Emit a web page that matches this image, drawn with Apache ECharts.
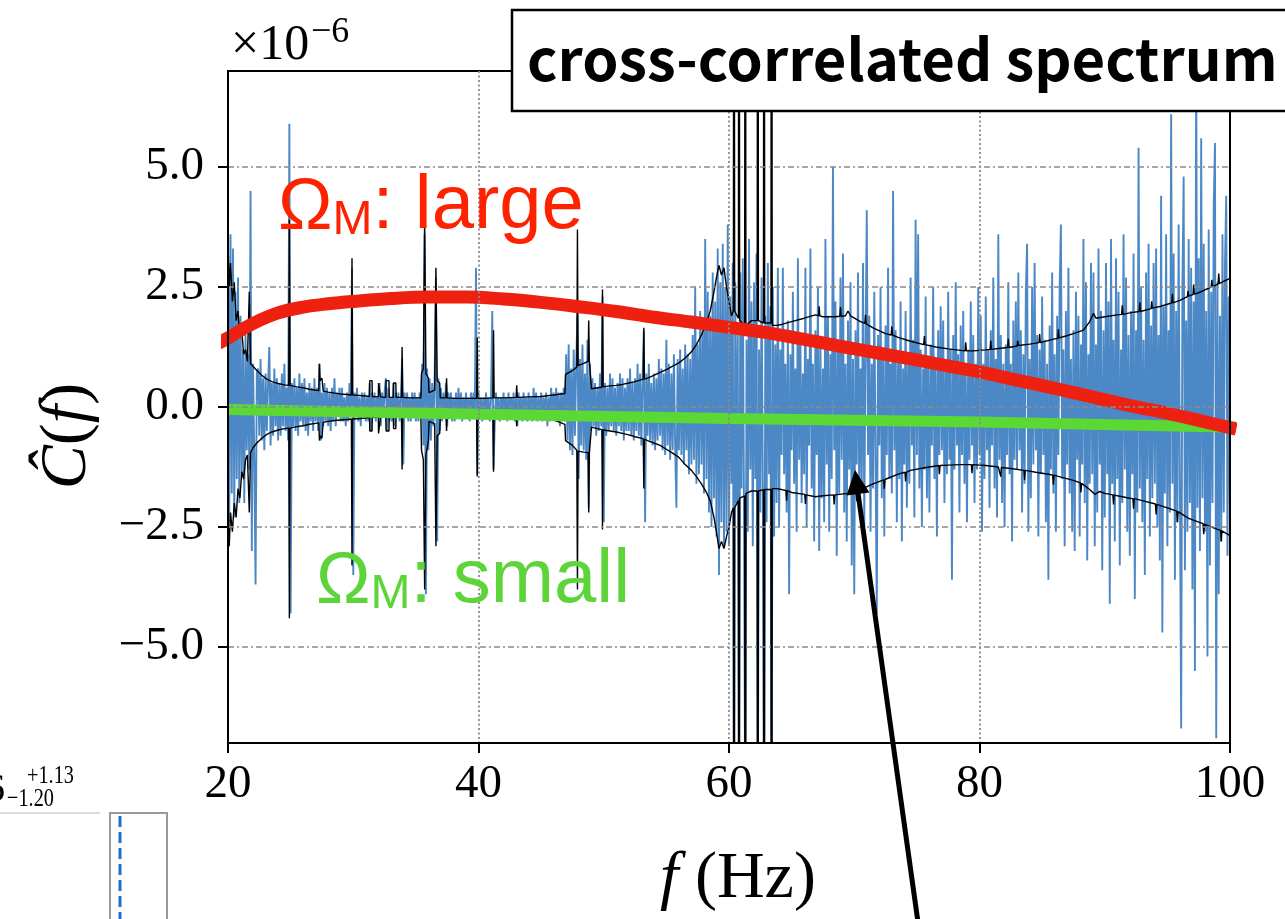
<!DOCTYPE html>
<html><head><meta charset="utf-8">
<script src="https://cdn.jsdelivr.net/npm/echarts@6/dist/echarts.min.js"></script>
<style>html,body{margin:0;padding:0;background:#fff}#c{width:1285px;height:919px}</style>
</head><body><div id="c"></div>
<script>
// ---- data (values in units of 1e-6) ----
const freqStart = 20, freqStep = 0.1;
const xTicks = [20, 40, 60, 80, 100];
const yTicks = [-5, -2.5, 0, 2.5, 5];

const blue20_40 = [
 4.1,-2.4,3.6,-1.8,3.3,-2.3,2.4,-1.5,2.7,-2.0,
 1.9,-1.4,1.2,-2.0,1.5,-0.9,1.1,-1.3,4.5,-3.0,
 0.9,-1.1,-3.7,0.7,0.8,-0.6,1.0,-0.7,0.6,-0.9,
 0.7,-0.5,0.5,1.25,-0.8,0.5,-0.6,0.8,-0.4,0.6,
 -0.7,0.5,-0.6,0.7,-0.4,0.9,-0.5,0.4,-0.7,5.9,
 -4.3,0.5,-0.4,0.6,-0.5,0.4,-0.6,0.7,-0.3,0.5,
 -0.4,0.6,-0.5,0.3,-0.6,0.5,-0.3,0.4,-0.5,0.6,
 -0.3,0.4,-0.5,0.9,-0.7,0.3,-0.4,0.5,-0.3,0.4,
 -0.4,0.3,-0.5,0.4,-0.3,0.6,-0.4,0.3,-0.2,0.4,
 -0.3,0.4,-0.3,0.2,-0.4,0.3,-0.3,0.5,-0.2,2.9,
 -3.5,0.3,-0.2,0.4,-0.3,0.2,-0.4,0.3,-0.2,0.3,
 -0.3,0.2,-0.3,0.5,-0.5,0.3,-0.2,0.3,-0.3,0.2,
 -0.2,0.5,-0.4,0.3,-0.2,0.3,0.6,-0.5,0.4,-0.3,
 0.2,-0.3,0.5,-0.4,0.3,-0.2,0.3,-0.3,0.2,1.0,
 -1.2,0.3,-0.2,0.3,-0.3,0.2,-0.3,0.3,-0.2,0.3,
 -0.3,0.2,-0.3,0.3,-0.2,0.9,-0.8,3.6,-3.9,0.8,
 -0.9,0.6,-0.7,0.5,-0.4,0.6,2.7,-2.8,0.6,-0.5,
 0.4,-0.3,0.3,-0.2,0.5,-0.4,0.3,-0.2,0.3,-0.3,
 0.2,-0.3,0.3,-0.2,0.4,-0.2,0.3,-0.3,0.2,-0.2,
 0.3,-0.2,0.2,-0.3,0.3,-0.2,0.3,-0.2,2.9,-1.4
];
const blue40_60 = [
 0.3,-0.2,0.2,-0.3,0.2,-0.2,0.3,-0.2,0.2,-0.3,
 0.2,2.0,-1.3,-0.3,0.3,-0.2,0.2,-0.3,0.2,-0.2,
 0.3,-0.2,0.2,-0.3,0.3,-0.2,0.2,-0.2,0.3,-0.3,
 0.2,-0.4,0.3,-0.2,0.2,-0.3,0.3,-0.2,0.2,-0.3,
 0.3,-0.2,0.2,-0.3,0.4,-0.2,0.3,-0.3,0.2,-0.2,
 0.3,-0.3,0.2,-0.2,0.3,-0.4,0.2,-0.3,0.4,-0.2,
 0.3,-0.3,0.4,-0.2,0.3,-0.4,0.3,-0.3,0.4,-0.3,
 1.1,-0.7,1.3,-0.9,0.8,-1.0,1.2,-0.6,0.9,1.9,
 -1.5,1.0,-0.8,1.3,-0.9,0.7,-1.1,1.4,-2.1,0.9,
 -0.5,0.6,-0.4,0.5,-0.6,0.4,-0.5,0.7,-0.4,2.3,
 -2.4,0.5,-0.6,0.4,-0.5,0.7,-0.4,0.6,-0.5,0.4,
 -0.6,0.5,-0.4,0.7,-0.5,0.6,-0.7,0.4,-0.5,0.6,
 -0.5,0.8,-0.6,0.5,-0.7,0.6,-0.5,0.9,-0.6,0.7,
 -0.8,0.6,1.6,-2.4,0.7,-0.6,0.9,-0.7,0.5,-0.8,
 0.7,-0.9,0.6,-0.7,1.0,-0.6,0.8,-0.9,0.7,-1.0,
 1.4,-0.8,0.9,-1.1,0.7,-0.9,1.1,-0.8,-2.1,1.0,
 -0.9,1.2,-1.0,0.8,-1.2,1.3,-0.9,1.1,-1.4,1.0,
 -1.2,1.5,-1.1,2.5,-1.6,1.3,-1.4,2.0,-1.2,1.6,
 -1.8,3.5,-1.5,2.4,-2.2,1.9,-2.5,2.8,-1.9,2.2,
 -2.7,3.3,-3.5,2.6,-2.4,3.4,-2.9,2.5,-2.6,3.8
];
const blue60_80 = [
 -2.9,2.3,-1.6,3.0,-9,2.6,-2.0,1.5,-9,2.8,
 -1.7,3.1,-2.4,-9,1.4,-2.6,3.5,-1.3,2.2,-2.9,
 2.6,-1.5,3.2,-9,1.2,-2.2,2.7,-1.6,-9,1.9,
 -2.4,3.0,-1.4,2.1,-9,2.5,-2.7,1.3,-2.0,2.9,
 -2.5,1.2,-1.0,2.9,-1.4,0.9,-2.2,1.8,-3.9,1.1,
 -0.9,2.4,-1.6,0.8,-2.6,3.1,-1.1,1.5,-2.0,0.7,
 -1.4,2.9,-2.5,1.0,-0.8,3.3,-1.7,0.9,-2.8,1.6,
 -1.0,2.5,-3.0,1.3,-1.9,0.8,-2.4,3.5,-1.2,1.9,
 -2.6,1.1,-1.5,5.0,-0.9,2.2,-3.1,1.4,-1.8,2.7,
 -1.1,3.2,-2.2,0.9,-2.8,1.8,-1.3,2.6,-3.3,1.0,
 -3.9,1.6,-1.2,2.8,-2.0,0.8,-1.6,3.0,-2.5,1.2,
 4.1,-1.0,1.9,-2.6,0.9,-1.7,2.4,-1.1,-4.3,1.5,
 -0.8,2.5,-1.9,1.0,-2.7,1.7,-1.0,2.9,-1.5,0.9,
 -1.8,4.5,-0.9,1.6,-2.4,1.1,-1.5,2.2,-2.8,0.8,
 -1.2,2.0,-2.1,0.9,-1.6,2.7,-0.8,1.4,-2.3,3.9,
 -1.0,3.6,-1.7,1.2,-2.5,0.8,-1.3,2.3,-1.9,1.0,
 -2.2,1.3,-0.8,2.5,-1.5,0.9,-2.7,1.6,-1.0,2.1,
 -0.9,1.8,-2.0,0.8,-1.4,2.4,-1.1,1.2,-3.6,1.5,
 -1.3,2.6,-0.8,1.1,-2.2,1.7,-1.0,2.0,-1.6,0.8,
 -2.4,1.2,-1.1,2.2,-0.8,1.5,-2.0,0.9,-1.3,2.5
];
const blue80_100 = [
 -1.0,1.9,-2.6,0.9,-1.5,2.3,-0.9,1.2,-2.1,1.6,
 -0.8,2.7,-1.7,1.0,-2.3,3.6,-1.1,1.5,-2.0,0.9,
 -2.5,1.3,-1.0,2.6,-1.4,0.9,-2.8,1.8,-1.1,2.2,
 -1.3,2.8,-0.9,1.6,-2.2,1.1,-1.6,2.4,3.4,-2.6,
 1.0,-1.9,2.5,-1.2,3.0,-0.9,1.5,-2.7,1.2,-1.4,
 2.3,-1.0,1.4,-2.4,0.9,-3.6,1.7,-1.3,2.8,-1.8,
 1.1,-2.6,1.9,-1.0,2.5,3.8,-1.5,1.2,-2.9,2.0,
 -1.2,2.9,-1.8,1.0,-2.6,1.6,-3.0,2.4,-1.1,1.9,
 -2.7,1.3,-1.2,3.5,-2.0,2.6,-3.2,1.1,-1.6,3.0,
 -1.4,2.8,-2.9,1.3,-2.2,3.3,-1.2,2.0,-3.4,1.6,
 -2.3,3.0,-1.4,2.2,-4.1,3.5,-1.6,1.4,-2.8,3.1,
 -1.5,2.4,-3.3,1.2,-2.0,3.6,-1.3,2.7,-2.6,1.5,
 -3.1,2.0,-1.4,3.2,-4.0,1.6,-2.2,5.4,-1.7,2.5,
 -2.4,1.4,-3.5,2.8,-1.5,3.4,-2.7,1.7,-1.9,3.0,
 -1.6,3.3,-2.5,1.5,-3.2,4.4,-4.7,2.1,-1.8,3.6,
 -2.9,1.6,-2.2,6.1,-1.6,3.2,-3.6,2.0,-2.4,3.8,
 -1.7,-6.7,2.5,4.8,-3.4,1.8,-2.6,3.5,-2.0,2.9,
 -3.8,2.2,-5.5,7.5,-2.1,3.1,-3.0,5.6,-1.9,3.4,
 -2.6,2.0,-5.2,3.7,-3.3,2.4,-2.0,4.2,5.5,-6.9,
 2.6,-3.9,1.9,-2.8,3.6,-2.2,3.0,4.4,-3.1,2.3,
 -2.5
];

const envUpper = [
 [20.0,3.4],[20.1,2.5],[20.2,3.0],[20.35,2.2],[20.5,2.6],[20.65,1.8],[20.8,2.0],[20.95,1.45],[21.1,1.6],[21.25,1.1],
 [21.4,1.2],[21.55,0.95],[21.7,2.4],[21.8,0.9],[22.0,0.85],[22.3,0.76],[22.7,0.66],[23.1,0.58],[23.5,0.53],[24.0,0.49],
 [24.5,0.46],[24.85,0.45],[24.9,3.9],[24.95,0.45],[25.5,0.42],[26.0,0.4],[26.5,0.37],[27.0,0.35],[27.25,0.34],[27.3,0.9],
 [27.35,0.55],[27.5,0.6],[27.6,0.33],[28.0,0.31],[28.5,0.29],[29.0,0.27],[29.5,0.26],[29.85,0.25],[29.9,3.1],[29.95,0.25],
 [30.5,0.24],[31.0,0.23],[31.3,0.22],[31.32,0.55],[31.5,0.55],[31.52,0.22],[32.0,0.21],[32.02,0.5],[32.15,0.5],[32.17,0.21],
 [32.6,0.2],[32.62,0.55],[32.85,0.55],[32.87,0.2],[33.2,0.2],[33.22,0.5],[33.4,0.5],[33.42,0.2],[33.85,0.2],[33.9,1.25],
 [33.95,0.2],[34.5,0.19],[35.4,0.19],[35.45,0.7],[35.6,0.8],[35.7,3.95],[35.8,0.7],[36.0,0.6],[36.05,0.3],[36.5,0.35],
 [36.6,2.9],[36.7,0.55],[36.9,0.5],[36.95,0.19],[37.4,0.19],[37.45,0.6],[37.5,0.19],[38.0,0.18],[39.0,0.18],[39.85,0.18],
 [39.9,1.45],[39.95,0.18],[40.5,0.18],[41.15,0.19],[41.2,1.6],[41.25,0.19],[42.0,0.19],[43.0,0.2],[43.05,0.45],[43.1,0.2],
 [44.0,0.21],[45.0,0.22],[46.0,0.25],[46.9,0.28],[46.95,0.68],[47.5,0.76],[47.85,0.83],[47.9,3.7],[47.95,0.86],[48.4,0.91],
 [48.75,0.95],[48.8,1.8],[48.85,0.96],[49.0,0.98],[49.02,0.38],[49.5,0.4],[49.85,0.41],[49.9,2.45],[49.95,0.42],[50.5,0.44],
 [51.0,0.45],[51.5,0.47],[52.0,0.5],[52.5,0.53],[53.15,0.58],[53.2,1.65],[53.25,0.58],[53.5,0.6],[54.0,0.66],[54.5,0.72],
 [55.0,0.78],[55.5,0.85],[56.0,0.92],[56.5,1.02],[57.0,1.15],[57.4,1.3],[57.8,1.5],[58.2,1.75],[58.5,2.0],[58.8,2.4],
 [59.0,2.7],[59.2,2.95],[59.4,2.75],[59.6,2.9],[59.8,2.5],[60.0,2.2],[60.2,1.9],[60.35,2.0],[60.4,20],[60.45,2.0],
 [60.75,1.85],[60.8,20],[60.85,1.8],[61.25,1.7],[61.3,20],[61.35,1.7],[61.8,1.8],[62.25,1.8],[62.3,20],[62.35,1.8],
 [62.75,1.75],[62.8,20],[62.85,1.75],[63.35,1.75],[63.4,20],[63.45,1.7],[63.8,1.7],
 [64.2,1.72],[65.0,1.78],[66.0,1.85],[66.9,1.92],[67.15,1.9],[67.2,2.1],[67.25,1.9],[67.5,1.88],[68.5,1.88],[68.85,1.89],
 [68.9,2.08],[68.95,1.89],[69.3,1.9],[69.5,2.0],[69.7,1.9],[70.5,1.78],[70.85,1.74],[70.9,1.92],[70.95,1.73],[71.5,1.65],
 [72.5,1.53],[72.95,1.5],[73.0,1.68],[73.05,1.5],[73.5,1.45],[74.5,1.37],[75.55,1.3],[75.6,1.48],[75.65,1.3],[76.5,1.25],
 [77.5,1.21],[78.5,1.18],[78.85,1.17],[78.9,1.35],[78.95,1.17],[79.5,1.17],[80.5,1.19],[80.85,1.2],[80.9,1.38],[80.95,1.2],
 [81.5,1.22],[82.25,1.24],[82.3,1.42],[82.35,1.24],[83.0,1.27],[83.05,1.38],[83.1,1.28],[84.0,1.31],[84.75,1.34],[84.8,1.52],
 [84.85,1.34],[86.0,1.42],[86.25,1.43],[86.3,1.62],[86.35,1.44],[86.9,1.48],[87.5,1.53],[88.3,1.6],[88.8,1.78],[89.1,1.95],
 [89.3,1.85],[90.0,1.88],[91.0,1.92],[91.35,1.93],[91.4,2.12],[91.45,1.93],[92.0,1.96],[92.75,1.99],[92.8,2.18],[92.85,1.99],
 [93.7,2.05],[93.75,2.2],[93.8,2.06],[94.5,2.1],[95.0,2.14],[95.35,2.17],[95.4,2.36],[95.45,2.17],[96.0,2.22],[96.6,2.3],
 [96.65,2.42],[96.7,2.31],[97.05,2.34],[97.1,2.55],[97.15,2.35],[97.5,2.38],[98.0,2.44],[98.5,2.5],[98.55,2.65],[98.6,2.51],
 [99.05,2.56],[99.1,2.78],[99.15,2.57],[99.5,2.62],[100.0,2.68]
];
const envLower = [
 [20.0,-2.3],[20.1,-2.9],[20.2,-2.2],[20.35,-2.6],[20.5,-2.0],[20.65,-2.3],[20.8,-1.7],[20.95,-1.9],[21.1,-1.35],[21.25,-1.5],
 [21.4,-1.1],[21.55,-1.0],[21.7,-2.2],[21.8,-0.95],[22.0,-0.85],[22.3,-0.75],[22.7,-0.65],[23.1,-0.57],[23.5,-0.52],[24.0,-0.48],
 [24.5,-0.45],[24.85,-0.44],[24.9,-4.4],[24.95,-0.44],[25.5,-0.41],[26.0,-0.39],[26.5,-0.36],[27.0,-0.34],[27.25,-0.33],[27.3,-0.7],
 [27.35,-0.6],[27.5,-0.65],[27.6,-0.32],[28.0,-0.3],[28.5,-0.28],[29.0,-0.27],[29.5,-0.26],[29.85,-0.25],[29.9,-3.3],[29.95,-0.25],
 [30.5,-0.24],[31.0,-0.23],[31.3,-0.22],[31.32,-0.5],[31.5,-0.5],[31.52,-0.22],[32.0,-0.21],[32.02,-0.55],[32.15,-0.55],[32.17,-0.21],
 [32.6,-0.2],[32.62,-0.5],[32.85,-0.5],[32.87,-0.2],[33.2,-0.2],[33.22,-0.45],[33.4,-0.45],[33.42,-0.2],[33.85,-0.2],[33.9,-1.3],
 [33.95,-0.2],[34.5,-0.19],[35.4,-0.19],[35.45,-0.9],[35.6,-1.1],[35.7,-3.8],[35.8,-1.0],[36.0,-0.7],[36.05,-0.3],[36.5,-0.35],
 [36.6,-2.9],[36.7,-0.6],[36.9,-0.55],[36.95,-0.19],[37.4,-0.19],[37.45,-0.5],[37.5,-0.19],[38.0,-0.18],[39.0,-0.18],[39.85,-0.18],
 [39.9,-1.45],[39.95,-0.18],[40.5,-0.18],[41.15,-0.19],[41.2,-1.35],[41.25,-0.19],[42.0,-0.19],[43.0,-0.2],[43.05,-0.4],[43.1,-0.2],
 [44.0,-0.21],[45.0,-0.23],[46.0,-0.27],[46.9,-0.36],[46.95,-0.7],[47.5,-0.8],[47.85,-0.9],[47.9,-3.8],[47.95,-0.92],[48.4,-0.94],
 [48.75,-0.95],[48.8,-2.2],[48.85,-0.95],[49.0,-0.96],[49.02,-0.42],[49.5,-0.45],[49.85,-0.47],[49.9,-2.55],[49.95,-0.48],[50.5,-0.5],
 [51.0,-0.52],[51.5,-0.55],[52.0,-0.58],[52.5,-0.62],[53.15,-0.66],[53.2,-1.7],[53.25,-0.67],[53.5,-0.7],[54.0,-0.75],[54.5,-0.8],
 [55.0,-0.88],[55.5,-0.96],[56.0,-1.05],[56.5,-1.2],[57.0,-1.32],[57.4,-1.45],[57.8,-1.6],[58.2,-1.78],[58.5,-1.95],[58.8,-2.3],
 [59.0,-2.6],[59.2,-2.95],[59.4,-2.8],[59.6,-2.95],[59.8,-2.7],[60.0,-2.5],[60.2,-2.2],[60.35,-2.1],[60.4,-20],[60.45,-2.1],
 [60.75,-1.95],[60.8,-20],[60.85,-1.9],[61.25,-1.85],[61.3,-20],[61.35,-1.8],[61.8,-1.75],[62.25,-1.75],[62.3,-20],[62.35,-1.75],
 [62.75,-1.72],[62.8,-20],[62.85,-1.72],[63.35,-1.72],[63.4,-20],[63.45,-1.7],[63.8,-1.7],
 [64.2,-1.72],[64.55,-1.74],[64.6,-1.95],[64.65,-1.74],[65.0,-1.78],[66.05,-1.82],[66.1,-2.02],[66.15,-1.83],[66.9,-1.87],[67.5,-1.85],
 [68.35,-1.83],[68.4,-2.03],[68.45,-1.83],[69.5,-1.8],[70.15,-1.76],[70.2,-1.96],[70.25,-1.75],[70.5,-1.72],[71.5,-1.6],[72.35,-1.52],
 [72.4,-1.7],[72.45,-1.51],[73.5,-1.4],[74.05,-1.36],[74.1,-1.55],[74.15,-1.36],[74.5,-1.32],[75.5,-1.27],[76.5,-1.23],[76.75,-1.22],
 [76.8,-1.4],[76.85,-1.22],[77.5,-1.21],[78.5,-1.2],[79.35,-1.2],[79.4,-1.38],[79.45,-1.2],[80.5,-1.22],[81.5,-1.25],[81.65,-1.26],
 [81.7,-1.45],[81.75,-1.26],[82.5,-1.28],[83.55,-1.32],[83.6,-1.52],[83.65,-1.32],[84.5,-1.36],[85.5,-1.4],[85.85,-1.42],[85.9,-1.62],
 [85.95,-1.42],[86.5,-1.46],[87.5,-1.53],[88.05,-1.58],[88.1,-1.78],[88.15,-1.59],[88.3,-1.6],[88.8,-1.72],[89.2,-1.82],[89.6,-1.76],
 [90.0,-1.8],[90.65,-1.83],[90.7,-2.03],[90.75,-1.83],[91.0,-1.85],[92.0,-1.9],[92.25,-1.91],[92.3,-2.12],[92.35,-1.91],[93.0,-1.95],
 [94.05,-2.02],[94.1,-2.24],[94.15,-2.03],[95.0,-2.1],[95.75,-2.17],[95.8,-2.4],[95.85,-2.18],[96.0,-2.2],[96.7,-2.32],[97.5,-2.4],
 [97.85,-2.43],[97.9,-2.65],[97.95,-2.44],[99.0,-2.55],[99.25,-2.57],[99.3,-2.8],[99.35,-2.58],[99.5,-2.6],[100.0,-2.68]
];
const modelLarge = [
 [19.2,1.32],[20,1.44],[22,1.74],[24,1.96],[26,2.08],[28,2.15],[30,2.2],[33,2.26],[36,2.29],[39,2.29],[42,2.25],
 [45,2.18],[48,2.09],[51,1.99],[54,1.87],[57,1.77],[60,1.66],[63,1.55],[66,1.41],[69,1.26],[72,1.12],[75,0.98],
 [78,0.83],[80,0.73],[83,0.56],[86,0.39],[89,0.21],[92,0.03],[95,-0.13],[98,-0.31],[100.5,-0.46]
];
const modelSmall = [[20,-0.05],[40,-0.15],[60,-0.24],[80,-0.31],[100.6,-0.42]];

// ---- build ----
const blueVals = [].concat(blue20_40, blue40_60, blue60_80, blue80_100);
const blueData = blueVals.map((v, i) => [Math.round((freqStart + i * freqStep) * 100) / 100, v]);

const serif = '"Liberation Serif", "DejaVu Serif", serif';
const sans = '"Liberation Sans", Arial, sans-serif';
const fmtY = v => (v < 0 ? '\u2212' : '') + Math.abs(v).toFixed(1);

const chart = echarts.init(document.getElementById('c'), null, {renderer: 'canvas'});
chart.setOption({
  animation: false,
  backgroundColor: '#fff',
  grid: {left: 228, right: 55, top: 71, height: 672, show: true, borderColor: '#000', borderWidth: 2, backgroundColor: 'transparent'},
  xAxis: {
    type: 'value', min: 20, max: 100, interval: 20, z: 10,
    axisLine: {onZero: false, lineStyle: {color: '#000', width: 2}},
    axisTick: {length: 10, lineStyle: {color: '#000', width: 2}},
    axisLabel: {color: '#000', fontFamily: serif, fontSize: 47, margin: 18},
    splitLine: {show: true, showMinLine: false, showMaxLine: false, lineStyle: {color: '#8a8a8a', width: 1.8, type: [2, 2.5]}}
  },
  yAxis: [{
    type: 'value', min: -7, max: 7, z: 10,
    axisLine: {show: true, onZero: false, lineStyle: {color: '#000', width: 2}},
    axisTick: {show: true, length: 10, customValues: yTicks, lineStyle: {color: '#000', width: 2}},
    axisLabel: {color: '#000', fontFamily: serif, fontSize: 47, margin: 24, customValues: yTicks, formatter: fmtY},
    splitLine: {show: true, lineStyle: {color: '#8a8a8a', width: 1.6, type: [6, 3, 2, 3]}}
  }, {
    type: 'value', min: -7, max: 7, position: 'right', z: 10,
    axisLine: {show: true, onZero: false, lineStyle: {color: '#000', width: 2}},
    axisTick: {show: false}, axisLabel: {show: false}, splitLine: {show: false}
  }],
  series: [
    {type: 'line', data: blueData, showSymbol: false, z: 2, silent: true,
     lineStyle: {color: '#3d7ec0', width: 1.9, opacity: 0.92}},
    {type: 'line', data: envUpper, showSymbol: false, z: 3, silent: true,
     lineStyle: {color: '#000', width: 1.4}},
    {type: 'line', data: envLower, showSymbol: false, z: 3, silent: true,
     lineStyle: {color: '#000', width: 1.4}},
    {type: 'line', data: modelSmall, showSymbol: false, z: 4, silent: true, clip: false,
     lineStyle: {color: '#5cd834', width: 11}},
    {type: 'line', data: modelLarge, showSymbol: false, z: 5, silent: true, clip: false, smooth: 0.4,
     lineStyle: {color: '#ee2010', width: 13}}
  ],
  graphic: [
    {type: 'rect', z: 100, shape: {x: 512, y: 10, width: 820, height: 101},
     style: {fill: '#fff', stroke: '#000', lineWidth: 2.5}},
    {type: 'text', z: 101, x: 527, y: 59,
     style: {text: 'cross-correlated spectrum', fill: '#000', fontSize: 58, fontWeight: 'bold',
             fontFamily: '"Noto Sans CJK JP", "Noto Sans", sans-serif', verticalAlign: 'middle', align: 'left'}},
    {type: 'text', z: 101, x: 231, y: 46,
     style: {text: '\u00d710', fill: '#000', fontSize: 50, fontFamily: serif, verticalAlign: 'middle'}},
    {type: 'text', z: 101, x: 311, y: 33,
     style: {text: '\u22126', fill: '#000', fontSize: 36, fontFamily: serif, verticalAlign: 'middle'}},
    {type: 'text', z: 101, x: 68, y: 436, rotation: Math.PI / 2,
     style: {text: '{i|\u0108}{n|(}{i|f}{n|)}', align: 'center', verticalAlign: 'middle',
             rich: {i: {fontSize: 66, fontStyle: 'italic', fontFamily: serif, fill: '#000'},
                    n: {fontSize: 66, fontFamily: serif, fill: '#000'}}}},
    {type: 'text', z: 101, x: 738, y: 880,
     style: {text: '{i|f}{n| (Hz)}', align: 'center', verticalAlign: 'middle',
             rich: {i: {fontSize: 66, fontStyle: 'italic', fontFamily: serif, fill: '#000'},
                    n: {fontSize: 66, fontFamily: serif, fill: '#000'}}}},
    {type: 'text', z: 110, x: 278, y: 207,
     style: {text: '{a|\u03a9}{b|M}{c|: large}', verticalAlign: 'middle',
             rich: {a: {fontSize: 73, lineHeight: 73, fontFamily: sans, fill: '#ff2200', verticalAlign: 'bottom'},
                    b: {fontSize: 48, lineHeight: 70, fontFamily: sans, fill: '#ff2200', verticalAlign: 'bottom'},
                    c: {fontSize: 76, lineHeight: 76, fontFamily: sans, fill: '#ff2200', verticalAlign: 'bottom'}}}},
    {type: 'text', z: 110, x: 316, y: 581,
     style: {text: '{a|\u03a9}{b|M}{c|: small}', verticalAlign: 'middle',
             rich: {a: {fontSize: 73, lineHeight: 73, fontFamily: sans, fill: '#5cd43a', verticalAlign: 'bottom'},
                    b: {fontSize: 48, lineHeight: 70, fontFamily: sans, fill: '#5cd43a', verticalAlign: 'bottom'},
                    c: {fontSize: 76, lineHeight: 76, fontFamily: sans, fill: '#5cd43a', verticalAlign: 'bottom'}}}},
    {type: 'line', z: 110, shape: {x1: 918.8, y1: 928, x2: 858, y2: 493},
     style: {stroke: '#000', lineWidth: 5}},
    {type: 'polygon', z: 110, shape: {points: [[855, 470], [869.5, 492.5], [846.5, 495.5]]},
     style: {fill: '#000'}},
    // partial neighbouring panel at bottom-left
    {type: 'text', z: 101, x: -15, y: 790,
     style: {text: '6', fill: '#000', fontSize: 40, fontFamily: serif, verticalAlign: 'middle'}},
    {type: 'text', z: 101, x: 27, y: 776, scaleX: 0.78,
     style: {text: '+1.13', fill: '#000', fontSize: 26, fontFamily: serif, verticalAlign: 'middle'}},
    {type: 'text', z: 101, x: 7, y: 799, scaleX: 0.78,
     style: {text: '\u22121.20', fill: '#000', fontSize: 26, fontFamily: serif, verticalAlign: 'middle'}},
    {type: 'line', z: 101, shape: {x1: 0, y1: 813, x2: 100, y2: 813}, style: {stroke: '#cfcfcf', lineWidth: 1.5}},
    {type: 'polyline', z: 101, shape: {points: [[110, 919], [110, 813], [167, 813], [167, 919]]},
     style: {stroke: '#9a9a9a', lineWidth: 2, fill: null}},
    {type: 'line', z: 101, shape: {x1: 120, y1: 816, x2: 120, y2: 919},
     style: {stroke: '#1a6fd0', lineWidth: 3, lineDash: [11, 5]}}
  ]
});
</script>
</body></html>
